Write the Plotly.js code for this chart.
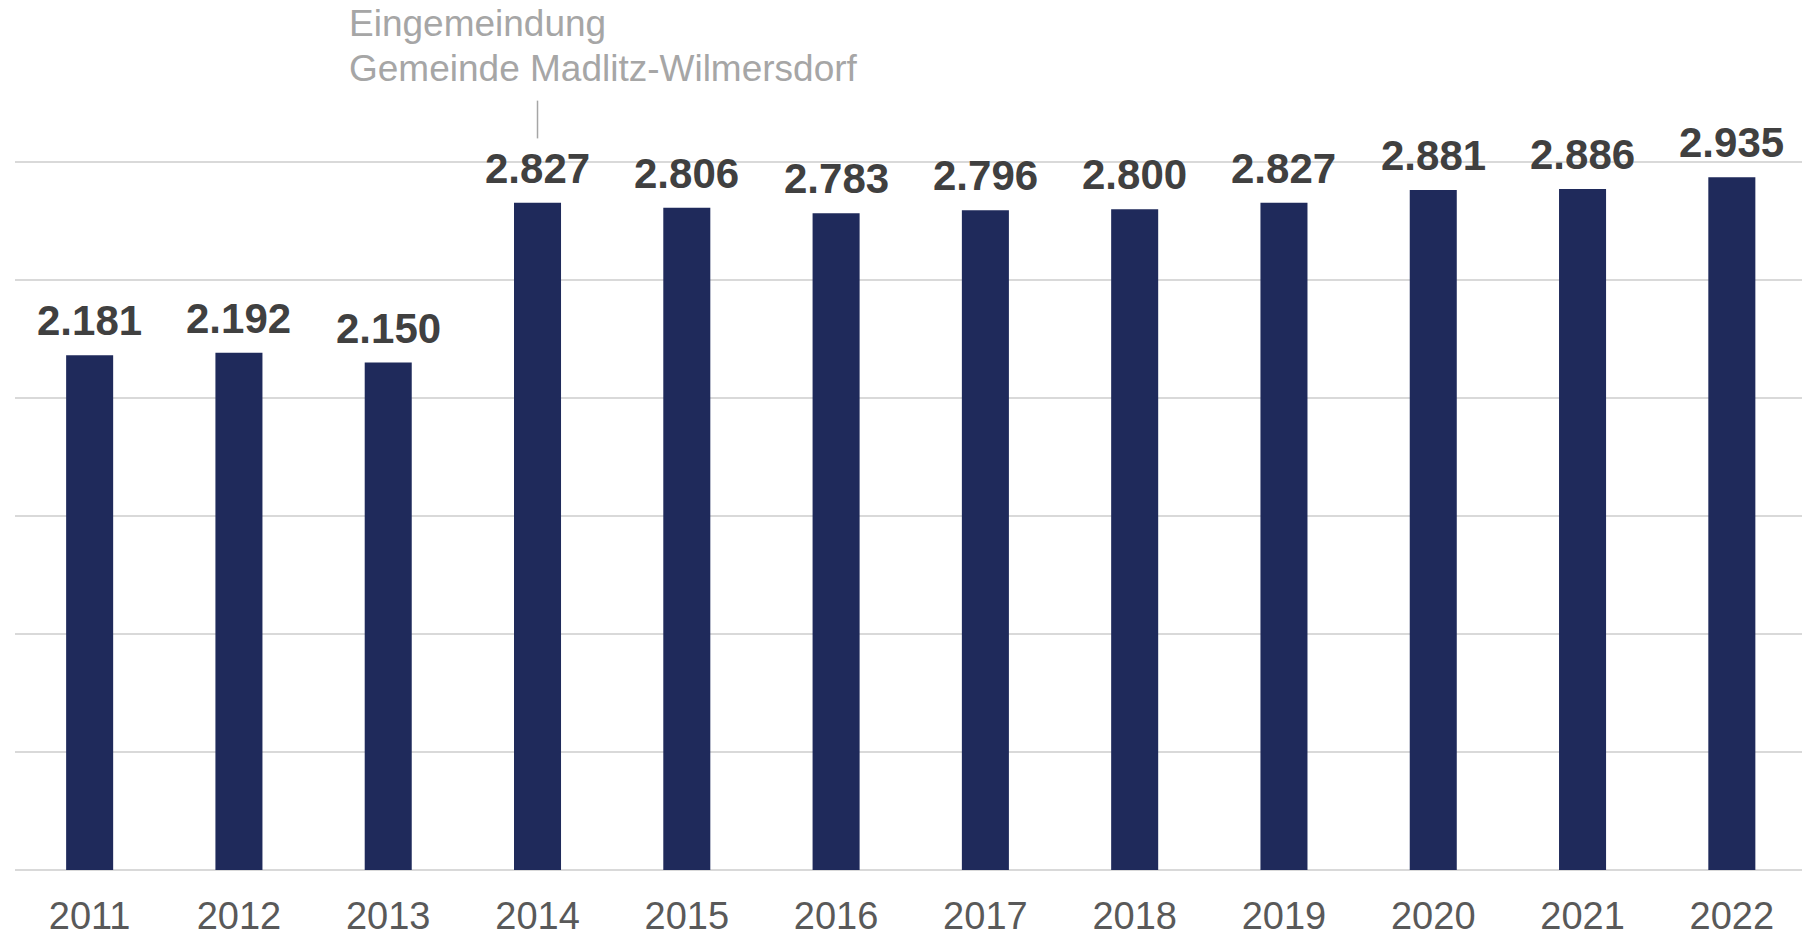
<!DOCTYPE html>
<html>
<head>
<meta charset="utf-8">
<script src="https://cdn.plot.ly/plotly-3.0.1.min.js"></script>
<style>html,body{margin:0;padding:0;background:#fff;}#chart{width:1802px;height:932px;}</style>
</head>
<body>
<div id="chart"></div>
<script>
const years = ['2011','2012','2013','2014','2015','2016','2017','2018','2019','2020','2021','2022'];
const population = [2181, 2192, 2150, 2827, 2806, 2783, 2796, 2800, 2827, 2881, 2886, 2935];
const noteLines = ['Eingemeindung', 'Gemeinde Madlitz-Wilmersdorf'];
const noteYear = '2014';

const FONT = '"Liberation Sans", Arial, sans-serif';
function fmt(v){ return Math.floor(v/1000) + '.' + String(v % 1000).padStart(3,'0'); }

const trace = {
  type: 'bar', x: years, y: population,
  marker: {color: '#1F2A5B'},
  hoverinfo: 'x+y'
};

const annotations = years.map((yr, i) => ({
  x: i, y: population[i], xref: 'x', yref: 'y',
  text: '<b>' + fmt(population[i]) + '</b>',
  showarrow: false, yanchor: 'bottom', yshift: 9,
  font: {family: FONT, size: 42, color: '#404040'}
}));
annotations.push({
  xref: 'paper', yref: 'paper', x: 332/1787, y: (870-23)/826,
  xanchor: 'left', yanchor: 'middle', showarrow: false,
  text: noteLines[0], font: {family: FONT, size: 37, color: '#A6A6A6'}
});
annotations.push({
  xref: 'paper', yref: 'paper', x: 332/1787, y: (870-69)/826,
  xanchor: 'left', yanchor: 'middle', showarrow: false,
  text: noteLines[1], font: {family: FONT, size: 37, color: '#A6A6A6'}
});

const noteIdx = years.indexOf(noteYear);

const layout = {
  width: 1802, height: 932,
  margin: {l: 15, r: 0, t: 44, b: 62},
  paper_bgcolor: '#fff', plot_bgcolor: '#fff',
  showlegend: false,
  bargap: 0.685,
  xaxis: {
    type: 'category', range: [-0.5, years.length - 0.53],
    showgrid: false, zeroline: false, showline: false,
    ticks: '', ticklabelstandoff: 20,
    tickfont: {family: FONT, size: 38, color: '#595959'}
  },
  yaxis: {
    range: [0, 3500], dtick: 500, showticklabels: false,
    showgrid: true, gridcolor: '#D9D9D9', gridwidth: 2,
    zeroline: true, zerolinecolor: '#D9D9D9', zerolinewidth: 2, fixedrange: true
  },
  shapes: [{
    type: 'line', xref: 'x', yref: 'y', x0: noteIdx, x1: noteIdx, y0: 3100, y1: 3260,
    line: {color: '#A6A6A6', width: 1.5}
  }],
  annotations: annotations
};

Plotly.newPlot('chart', [trace], layout, {displayModeBar: false, staticPlot: true});
</script>
</body>
</html>
